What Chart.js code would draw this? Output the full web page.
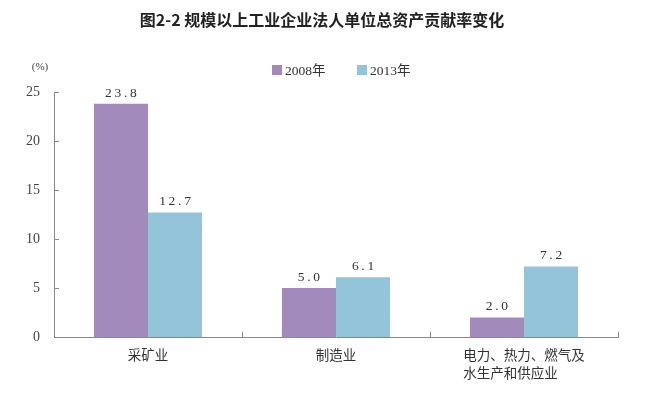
<!DOCTYPE html>
<html>
<head>
<meta charset="utf-8">
<script src="https://cdn.jsdelivr.net/npm/chart.js@4/dist/chart.umd.min.js"></script>
<style>
  body { margin: 0; background: #fff; }
  #wrap { width: 648px; height: 393px; }
</style>
</head>
<body>
<div id="wrap"><canvas id="chart" width="648" height="393"></canvas></div>
<script>
// chart data
var categories = ['采矿业', '制造业', ['电力、热力、燃气及', '水生产和供应业\u3000\u3000']];
var years = ['2008年', '2013年'];
var values2008 = [23.8, 5.0, 2.0];
var values2013 = [12.7, 6.1, 7.2];
var yTicks = [0, 5, 10, 15, 20, 25];

var titleText = '图2-2 规模以上工业企业法人单位总资产贡献率变化';
var unitText = '(%)';

var serif = '"Liberation Serif", "Noto Sans CJK SC", serif';
var cjk = '"Noto Sans CJK SC", "Liberation Serif", sans-serif';

/**
 * Draws the title, the unit label, the legend, inward ticks and the value labels.
 */
var decorations = {
    id: 'decorations',
    afterDraw: function(chart) {
        var ctx = chart.ctx;
        var area = chart.chartArea;
        var y = chart.scales.y;
        ctx.save();

        // title
        ctx.fillStyle = '#222';
        ctx.font = 'bold 16px ' + cjk;
        ctx.textAlign = 'center';
        ctx.textBaseline = 'middle';
        ctx.fillText(titleText, 322, 20);

        // unit
        ctx.font = '11px ' + serif;
        ctx.fillStyle = '#444';
        ctx.fillText(unitText, 40, 67);

        // legend
        var lx = [272, 357];
        chart.data.datasets.forEach(function(ds, i) {
            ctx.fillStyle = ds.backgroundColor;
            ctx.fillRect(lx[i], 65, 10, 10);
            ctx.fillStyle = '#333';
            ctx.font = '13.5px ' + serif;
            ctx.textAlign = 'left';
            ctx.fillText(ds.label, lx[i] + 13, 71);
        });

        // inward ticks
        ctx.strokeStyle = '#888';
        ctx.lineWidth = 1;
        ctx.beginPath();
        yTicks.forEach(function(v) {
            var py = Math.round(y.getPixelForValue(v)) + 0.5;
            ctx.moveTo(area.left, py);
            ctx.lineTo(area.left + 5, py);
        });
        for (var i = 1; i <= categories.length; i++) {
            var px = Math.round(area.left + (area.right - area.left) * i / categories.length) + 0.5;
            ctx.moveTo(px, area.bottom);
            ctx.lineTo(px, area.bottom - 5);
        }
        ctx.stroke();

        // value labels
        ctx.fillStyle = '#333';
        ctx.font = '13.5px ' + serif;
        ctx.textAlign = 'center';
        ctx.textBaseline = 'bottom';
        chart.data.datasets.forEach(function(ds, i) {
            chart.getDatasetMeta(i).data.forEach(function(bar, j) {
                var txt = ds.data[j].toFixed(1).split('').join('\u2009');
                ctx.fillText(txt, bar.x, bar.y - 4);
            });
        });
        ctx.restore();
    }
};

new Chart(document.getElementById('chart'), {
    type: 'bar',
    data: {
        labels: categories,
        datasets: [
            {label: years[0], data: values2008, backgroundColor: '#a28abd',
             barPercentage: 1.0, categoryPercentage: 0.575},
            {label: years[1], data: values2013, backgroundColor: '#93c4d9',
             barPercentage: 1.0, categoryPercentage: 0.575}
        ]
    },
    options: {
        responsive: false,
        animation: false,
        layout: {padding: {top: 92, right: 30, left: 0, bottom: 0}},
        plugins: {
            legend: {display: false},
            title: {display: false},
            tooltip: {enabled: false}
        },
        scales: {
            x: {
                grid: {display: false, drawTicks: false},
                border: {color: '#888'},
                ticks: {color: '#333', font: {family: cjk, size: 13.5, lineHeight: 1.35}, padding: 9, maxRotation: 0, autoSkip: false},
                afterFit: function(scale) { scale.height = 56; }
            },
            y: {
                min: 0, max: 25,
                afterBuildTicks: function(scale) { scale.ticks = yTicks.map(function(v) { return {value: v}; }); },
                grid: {display: false, drawTicks: false},
                border: {color: '#888'},
                ticks: {color: '#444', font: {family: serif, size: 14}, padding: 14},
                afterFit: function(scale) { scale.width = 54; }
            }
        }
    },
    plugins: [decorations]
});
</script>
</body>
</html>
